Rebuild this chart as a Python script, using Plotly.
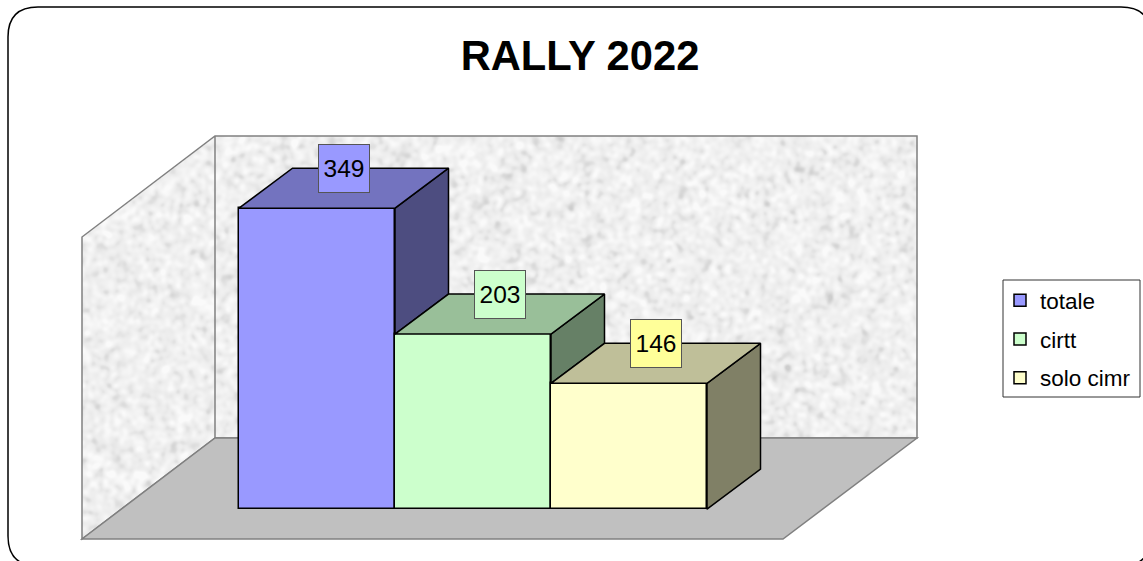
import base64, struct, zlib
import numpy as np
import plotly.graph_objects as go

# ---- data ----
title_text = "RALLY 2022"
series_names = ["totale", "cirtt", "solo cimr"]
series_values = [349, 203, 146]
front_colors = ["#9999ff", "#ccffcc", "#ffffcc"]
top_colors = ["#7373bf", "#99bf99", "#bfbf99"]
side_colors = ["#4d4d80", "#668066", "#808066"]
label_colors = ["#9999ff", "#ccffcc", "#ffff99"]

# ---- geometry of the picture ----
W, H = 1143, 561
BAR_LEFT_PX, BAR_W_PX = 239, 156
BASE_PX, PX_PER_UNIT = 509.2, 0.8625
DEPTH_X = 53.5 / BAR_W_PX
DEPTH_Y = 40 / PX_PER_UNIT
FONT = "Liberation Sans, Arial, sans-serif"


def xp(px):
    return px / W


def yp(py):
    return 1 - py / H


def poly(points):
    return "M" + " L".join(f"{xp(x):.5f},{yp(y):.5f}" for x, y in points) + " Z"


def wall_texture():
    """Soft mottled stone style of the chart walls, as a transparent PNG overlay."""
    rng = np.random.default_rng(7)
    n = rng.normal(size=(H, W))
    f = np.fft.fft2(n)
    fy = np.fft.fftfreq(H)[:, None]
    fx = np.fft.fftfreq(W)[None, :]
    sigma = 2.3
    fine = np.fft.ifft2(f * np.exp(-((fx**2 + fy**2) * (2 * np.pi * sigma) ** 2) / 2)).real
    fine /= fine.std()
    lum = 240 + 5 * fine
    lum = np.where(fine < -0.9, lum + 5 * (fine + 0.9), lum)
    lum = np.clip(lum, 205, 250).astype(np.uint8)
    yy, xx = np.mgrid[0:H, 0:W]
    back = (xx >= 215) & (xx <= 917) & (yy >= 136) & (yy <= 438)
    slope = (237 - 136) / (215 - 82)
    left = (xx >= 82) & (xx < 215) & (yy >= 237 - (xx - 82) * slope) & (yy <= 539 - (xx - 82) * slope)
    alpha = np.where(back | left, 255, 0).astype(np.uint8)
    rgba = np.dstack([lum, lum, lum, alpha])
    raw = b"".join(b"\x00" + rgba[i].tobytes() for i in range(H))

    def chunk(tag, data):
        return struct.pack(">I", len(data)) + tag + data + struct.pack(">I", zlib.crc32(tag + data) & 0xFFFFFFFF)

    png = (b"\x89PNG\r\n\x1a\n" + chunk(b"IHDR", struct.pack(">IIBBBBB", W, H, 8, 6, 0, 0, 0))
           + chunk(b"IDAT", zlib.compress(raw, 9)) + chunk(b"IEND", b""))
    return "data:image/png;base64," + base64.b64encode(png).decode()


fig = go.Figure()

# front faces
for i, (name, val) in enumerate(zip(series_names, series_values)):
    fig.add_trace(go.Bar(
        x=[i + 0.5], y=[val], width=[1], name=name, legendgroup=name,
        marker=dict(color=front_colors[i], line=dict(color="#000000", width=1.5)),
        hoverinfo="name+y",
    ))

# side and top faces, from the same values
LINE = dict(color="#000000", width=1.5)
for i, val in enumerate(series_values):
    next_val = series_values[i + 1] if i + 1 < len(series_values) else 0
    x1 = i + 1
    fig.add_trace(go.Scatter(
        x=[x1, x1 + DEPTH_X, x1 + DEPTH_X, x1, x1],
        y=[val, val + DEPTH_Y, next_val + DEPTH_Y, next_val, val],
        mode="lines", fill="toself", fillcolor=side_colors[i], line=LINE,
        showlegend=False, hoverinfo="skip",
    ))
    fig.add_trace(go.Scatter(
        x=[i, i + 1, i + 1 + DEPTH_X, i + DEPTH_X, i],
        y=[val, val, val + DEPTH_Y, val + DEPTH_Y, val],
        mode="lines", fill="toself", fillcolor=top_colors[i], line=LINE,
        showlegend=False, hoverinfo="skip",
    ))

annotations = [
    dict(x=i + 0.5 + DEPTH_X / 2, y=val + DEPTH_Y, xref="x", yref="y", text=str(val),
         showarrow=False, font=dict(family=FONT, size=24.5, color="#000000"),
         bgcolor=label_colors[i], bordercolor="#555555", borderwidth=1, borderpad=0,
         width=50, height=47, align="center", valign="middle")
    for i, val in enumerate(series_values)
]

r = 30
bx0, by0, bx1, by1 = 8, 7, 1151, 566
frame = (f"M{xp(bx0 + r)},{yp(by0)} L{xp(bx1 - r)},{yp(by0)} Q{xp(bx1)},{yp(by0)} {xp(bx1)},{yp(by0 + r)} "
         f"L{xp(bx1)},{yp(by1 - r)} Q{xp(bx1)},{yp(by1)} {xp(bx1 - r)},{yp(by1)} "
         f"L{xp(bx0 + r)},{yp(by1)} Q{xp(bx0)},{yp(by1)} {xp(bx0)},{yp(by1 - r)} "
         f"L{xp(bx0)},{yp(by0 + r)} Q{xp(bx0)},{yp(by0)} {xp(bx0 + r)},{yp(by0)} Z")

WALL = dict(color="#808080", width=1.5)
shapes = [
    dict(type="path", xref="paper", yref="paper", layer="below", path=frame,
         line=dict(color="#000000", width=1.5)),
    dict(type="path", xref="paper", yref="paper", layer="below",
         path=poly([(82, 237), (215, 136), (917, 136), (917, 438), (215, 438), (215, 136), (215, 438), (82, 539)]),
         line=WALL),
    dict(type="path", xref="paper", yref="paper", layer="below",
         path=poly([(82, 539), (215, 438), (917, 438), (783, 539)]),
         fillcolor="#c0c0c0", line=WALL),
    dict(type="rect", xref="paper", yref="paper", layer="below",
         x0=xp(1003), x1=xp(1140), y0=yp(397), y1=yp(280),
         fillcolor="#ffffff", line=dict(color="#333333", width=1)),
]

fig.update_layout(
    width=W, height=H, autosize=False,
    margin=dict(l=0, r=0, t=0, b=0),
    paper_bgcolor="rgba(0,0,0,0)", plot_bgcolor="rgba(0,0,0,0)",
    barmode="overlay", bargap=0,
    title=dict(text=f"<b>{title_text}</b>", x=580 / W, y=1 - 55 / H, xref="paper", yref="container",
               xanchor="center", yanchor="middle", font=dict(family=FONT, size=41.7, color="#000000")),
    xaxis=dict(range=[-BAR_LEFT_PX / BAR_W_PX, (W - BAR_LEFT_PX) / BAR_W_PX], visible=False, fixedrange=True),
    yaxis=dict(range=[(BASE_PX - H) / PX_PER_UNIT, BASE_PX / PX_PER_UNIT], visible=False, fixedrange=True),
    legend=dict(x=1000 / W, y=1 - 279 / H, xanchor="left", yanchor="top", bgcolor="rgba(0,0,0,0)",
                borderwidth=0, tracegroupgap=6.5, itemwidth=30,
                font=dict(family=FONT, size=22.5, color="#000000")),
    shapes=shapes, annotations=annotations,
    images=[dict(source=wall_texture(), xref="paper", yref="paper", x=0, y=1, sizex=1, sizey=1,
                 xanchor="left", yanchor="top", sizing="stretch", layer="below")],
)

fig.write_html("out.html", config=dict(displayModeBar=False),
               post_script="document.body.style.margin='0';document.body.style.overflow='hidden';")
